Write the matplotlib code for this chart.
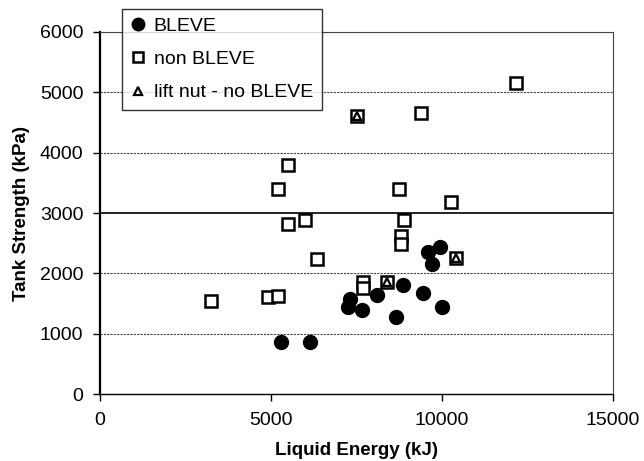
"""Scatter of tank strength against liquid energy for BLEVE / non-BLEVE tests."""
import matplotlib.pyplot as plt

# BLEVE tests
bleve_energy = [5300, 6150, 7250, 7300, 7650, 8100, 8650, 8850, 9450, 9600, 9700, 9950, 10000]
bleve_strength = [860, 860, 1450, 1570, 1400, 1640, 1280, 1800, 1680, 2360, 2150, 2440, 1450]

# non-BLEVE tests
non_energy = [3250, 4900, 5200, 5200, 5500, 5500, 6000, 6350, 7500, 7700, 7700, 8400,
              8750, 8800, 8800, 8900, 9400, 10250, 10400, 12150]
non_strength = [1540, 1600, 1630, 3400, 3790, 2810, 2880, 2240, 4600, 1860, 1760, 1850,
                3390, 2620, 2490, 2880, 4660, 3180, 2250, 5150]

# lift nut, no BLEVE
lift_energy = [7500, 8400, 10400]
lift_strength = [4600, 1850, 2250]

x_ticks = [0, 5000, 10000, 15000]
y_ticks = [0, 1000, 2000, 3000, 4000, 5000, 6000]

plt.rcParams["font.family"] = ["Liberation Sans", "DejaVu Sans"]

fig = plt.figure(figsize=(6.44, 4.61), dpi=100)
ax = fig.add_axes([0.1553, 0.1453, 0.7966, 0.7853])

# horizontal gridlines, the 3000 line drawn solid
for y in y_ticks[1:]:
    if y == 3000:
        ax.axhline(y, color="black", lw=1.2, zorder=0)
    else:
        ax.axhline(y, color="#444444", lw=0.8, ls=(0, (2, 1)), zorder=0)

ax.plot(bleve_energy, bleve_strength, "o", ms=10, color="black", mec="black",
        label="BLEVE", zorder=3)
ax.plot(non_energy, non_strength, "s", ms=8, mfc="white", mec="black", mew=1.8,
        label="non BLEVE", zorder=3)
ax.plot(lift_energy, lift_strength, "^", ms=6, mfc="white", mec="black", mew=1.6,
        label="lift nut - no BLEVE", zorder=4)

ax.set_xlim(0, 15000)
ax.set_ylim(0, 6000)
ax.set_xticks(x_ticks)
ax.set_yticks(y_ticks)
ax.tick_params(labelsize=14, length=5, width=1, direction="out")
ax.tick_params(axis="x", pad=8)
ax.tick_params(axis="y", pad=7)

for side in ["top", "right"]:
    ax.spines[side].set_linestyle((0, (2, 1)))
    ax.spines[side].set_color("#444444")
    ax.spines[side].set_linewidth(0.8)
ax.spines["bottom"].set_linestyle((0, (2, 1)))
ax.spines["bottom"].set_linewidth(1.0)
ax.spines["left"].set_linewidth(1.6)

ax.set_xlabel("Liquid Energy (kJ)", fontsize=13.5, fontweight="bold", labelpad=9)
ax.set_ylabel("Tank Strength (kPa)", fontsize=13.5, fontweight="bold", labelpad=7)

leg = ax.legend(loc="upper left", bbox_to_anchor=(0.189, 0.981), bbox_transform=fig.transFigure,
                fontsize=14, frameon=True, fancybox=False, borderaxespad=0,
                handlelength=0.8, handletextpad=0.4, labelspacing=0.8,
                borderpad=0.45, markerscale=0.9)
leg.get_frame().set_edgecolor("black")
leg.get_frame().set_linewidth(1.0)
leg.set_zorder(10)

fig.savefig("out.png", dpi=100)
